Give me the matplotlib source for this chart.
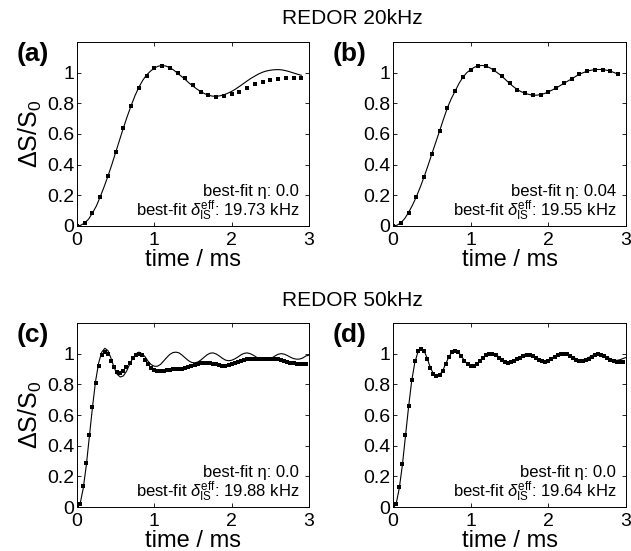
import numpy as np
import matplotlib
matplotlib.use("Agg")
import matplotlib.pyplot as plt

plt.rcParams['font.family'] = ['Liberation Sans', 'DejaVu Sans']
plt.rcParams['mathtext.fontset'] = 'custom'
plt.rcParams['mathtext.rm'] = 'Liberation Sans'
plt.rcParams['mathtext.it'] = 'Liberation Sans:italic'
plt.rcParams['mathtext.sf'] = 'Liberation Sans'

# REDOR 20 kHz: points every 0.1 ms, fit curve every 0.05 ms
dt_20_pts = 0.1
dt_20_fit = 0.05
a_pts = [0.0, 0.02, 0.085, 0.19, 0.325, 0.48, 0.64, 0.785, 0.9, 0.98,
         1.028, 1.043, 1.033, 1.0, 0.963, 0.917, 0.875, 0.853, 0.842, 0.846,
         0.862, 0.877, 0.9, 0.925, 0.94, 0.954, 0.96, 0.965, 0.965, 0.963]
a_fit = [0.0, 0.005, 0.02, 0.045, 0.085, 0.13, 0.19, 0.255, 0.325, 0.4,
         0.48, 0.56, 0.64, 0.715, 0.785, 0.85, 0.905, 0.95, 0.985, 1.01,
         1.03, 1.042, 1.047, 1.043, 1.033, 1.017, 0.997, 0.976, 0.955, 0.932,
         0.912, 0.893, 0.877, 0.863, 0.853, 0.847, 0.846, 0.849, 0.856, 0.866,
         0.878, 0.893, 0.91, 0.928, 0.946, 0.963, 0.978, 0.992, 1.003, 1.011,
         1.016, 1.019, 1.02, 1.018, 1.013, 1.006, 0.998, 0.99, 0.983]
b_pts = [0.0, 0.02, 0.088, 0.19, 0.32, 0.47, 0.62, 0.77, 0.88, 0.97,
         1.02, 1.045, 1.043, 1.015, 0.978, 0.93, 0.89, 0.866, 0.853, 0.857,
         0.875, 0.9, 0.93, 0.96, 0.99, 1.01, 1.02, 1.02, 1.01, 0.99]
b_fit = [0.0, 0.005, 0.02, 0.048, 0.088, 0.135, 0.19, 0.252, 0.32, 0.393,
         0.47, 0.545, 0.62, 0.697, 0.77, 0.83, 0.88, 0.93, 0.97, 1.0,
         1.02, 1.036, 1.045, 1.047, 1.043, 1.031, 1.015, 0.997, 0.978, 0.954,
         0.93, 0.909, 0.89, 0.876, 0.866, 0.858, 0.853, 0.853, 0.857, 0.864,
         0.875, 0.887, 0.9, 0.915, 0.93, 0.945, 0.96, 0.975, 0.99, 1.0,
         1.01, 1.016, 1.02, 1.021, 1.02, 1.016, 1.01, 1.0, 0.99]

# REDOR 50 kHz: points and fit every 0.04 ms
dt_50 = 0.04
c_pts = [0.0, 0.02, 0.14, 0.285, 0.47, 0.65, 0.81, 0.92, 0.99, 1.01,
         1.0, 0.95, 0.91, 0.88, 0.875, 0.885, 0.91, 0.94, 0.97, 0.99,
         1.0, 0.99, 0.96, 0.93, 0.905, 0.895, 0.89, 0.89, 0.89, 0.893,
         0.895, 0.897, 0.9, 0.9, 0.902, 0.905, 0.91, 0.918, 0.925, 0.932,
         0.938, 0.94, 0.94, 0.938, 0.935, 0.93, 0.925, 0.922, 0.922, 0.925,
         0.932, 0.94, 0.948, 0.955, 0.96, 0.963, 0.965, 0.965, 0.964, 0.962,
         0.962, 0.963, 0.965, 0.967, 0.967, 0.965, 0.96, 0.955, 0.948, 0.942,
         0.938, 0.935, 0.933, 0.932, 0.932]
c_fit = [0.0, 0.02, 0.12, 0.27, 0.46, 0.65, 0.82, 0.94, 1.01, 1.035,
         1.02, 0.97, 0.91, 0.865, 0.848, 0.855, 0.885, 0.93, 0.97, 0.998,
         1.01, 1.0, 0.98, 0.95, 0.928, 0.918, 0.918, 0.93, 0.952, 0.975,
         0.995, 1.007, 1.01, 1.005, 0.99, 0.972, 0.955, 0.943, 0.94, 0.945,
         0.958, 0.975, 0.992, 1.003, 1.005, 0.998, 0.985, 0.97, 0.958, 0.954,
         0.957, 0.966, 0.978, 0.992, 1.002, 1.005, 1.0, 0.99, 0.977, 0.965,
         0.957, 0.956, 0.962, 0.972, 0.985, 0.996, 1.0, 0.997, 0.988, 0.977,
         0.968, 0.964, 0.965, 0.972, 0.985, 0.99]
d_pts = [0.0, 0.02, 0.13, 0.28, 0.47, 0.66, 0.83, 0.95, 1.015, 1.03,
         1.015, 0.965, 0.905, 0.868, 0.852, 0.86, 0.89, 0.935, 0.98, 1.01,
         1.018, 1.008, 0.983, 0.953, 0.93, 0.918, 0.918, 0.93, 0.95, 0.973,
         0.99, 0.998, 0.998, 0.99, 0.975, 0.96, 0.948, 0.942, 0.943, 0.95,
         0.962, 0.975, 0.987, 0.993, 0.992, 0.984, 0.972, 0.96, 0.95, 0.947,
         0.952, 0.963, 0.977, 0.99, 0.998, 1.0, 0.995, 0.985, 0.972, 0.96,
         0.953, 0.952, 0.958, 0.968, 0.98, 0.99, 0.995, 0.992, 0.983, 0.97,
         0.958, 0.95, 0.946, 0.945, 0.948]
d_fit = [0.0, 0.02, 0.12, 0.27, 0.46, 0.65, 0.82, 0.94, 1.01, 1.035,
         1.02, 0.97, 0.91, 0.87, 0.852, 0.86, 0.89, 0.935, 0.98, 1.01,
         1.02, 1.01, 0.985, 0.955, 0.932, 0.92, 0.92, 0.932, 0.952, 0.975,
         0.993, 1.002, 1.003, 0.995, 0.98, 0.963, 0.95, 0.944, 0.945, 0.952,
         0.965, 0.98, 0.993, 1.0, 0.998, 0.99, 0.977, 0.963, 0.954, 0.952,
         0.957, 0.968, 0.982, 0.995, 1.003, 1.005, 1.0, 0.99, 0.977, 0.966,
         0.96, 0.96, 0.965, 0.975, 0.987, 0.996, 1.0, 0.997, 0.988, 0.977,
         0.966, 0.958, 0.956, 0.96, 0.968, 0.975]

panels = [
    ("(a)", a_pts, dt_20_pts, a_fit, dt_20_fit, "0.0", "19.73"),
    ("(b)", b_pts, dt_20_pts, b_fit, dt_20_fit, "0.04", "19.55"),
    ("(c)", c_pts, dt_50, c_fit, dt_50, "0.0", "19.88"),
    ("(d)", d_pts, dt_50, d_fit, dt_50, "0.0", "19.64"),
]

W, H = 631, 551
fig = plt.figure(figsize=(W / 100, H / 100), dpi=100)

# axes boxes in pixels: left, top, right, bottom
boxes = [(77, 42, 309, 226), (393, 42, 626, 226),
         (77, 323, 309, 507), (393, 323, 626, 507)]

for i, (lab, pts, dtp, fit, dtf, eta, delta) in enumerate(panels):
    l, t, r, b = boxes[i]
    ax = fig.add_axes([l / W, 1 - b / H, (r - l) / W, (b - t) / H])
    tp = dtp * np.arange(len(pts))
    tf = dtf * np.arange(len(fit))
    ax.plot(tf, fit, color='black', lw=0.8)
    ax.plot(tp, pts, ls='none', marker='s', ms=2.4, color='black', mew=0)
    ax.set_xlim(0, 3)
    ax.set_ylim(0, 1.2)
    ax.set_xticks([0, 1, 2, 3])
    ax.set_yticks([0, 0.2, 0.4, 0.6, 0.8, 1.0])
    ax.set_yticklabels(["0", "0.2", "0.4", "0.6", "0.8", "1"])
    ax.tick_params(direction='in', top=True, right=True, length=3,
                   width=0.6, labelsize=14)
    ax.tick_params(axis='x', pad=4)
    ax.tick_params(axis='y', pad=2)
    for s in ax.spines.values():
        s.set_linewidth(0.7)
    ax.set_xlabel("time / ms", fontsize=17, labelpad=0)
    if i % 2 == 0:
        ax.set_ylabel(r"$\Delta$S/S$_0$", fontsize=18, labelpad=2)
    ax.text(0.957, 0.185, "best-fit η: " + eta, transform=ax.transAxes,
            ha='right', va='center', fontsize=12)
    ax.text(0.957, 0.08,
            r"best-fit $\delta_{\mathrm{IS}}^{\mathrm{eff}}$: " + delta + " kHz",
            transform=ax.transAxes, ha='right', va='center', fontsize=12)
    ax.text((l - 60) / W, 1 - (t + 12) / H, lab, transform=fig.transFigure,
            ha='left', va='center', fontsize=19, fontweight='bold')

fig.text(352 / W, 1 - 18 / H, "REDOR 20kHz", ha='center', va='center',
         fontsize=15)
fig.text(352 / W, 1 - 300 / H, "REDOR 50kHz", ha='center', va='center',
         fontsize=15)

fig.savefig("out.png", dpi=100)
